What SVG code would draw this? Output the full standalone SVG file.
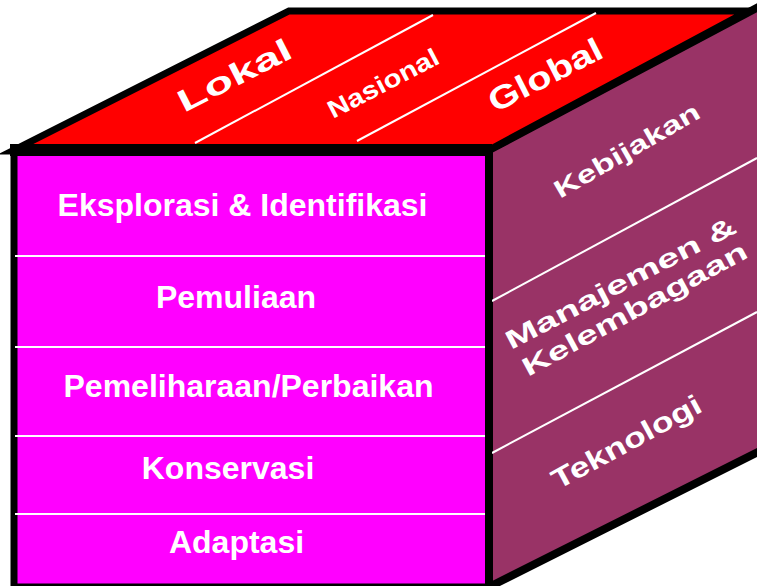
<svg xmlns="http://www.w3.org/2000/svg" width="757" height="586" viewBox="0 0 757 586">
<style>
.edge{stroke:#000;stroke-linejoin:miter;stroke-miterlimit:10}
.sep{stroke:#fff;stroke-width:2;fill:none}
.ft{font-family:"Liberation Sans",Arial,sans-serif;font-weight:bold;font-size:32px;fill:#fff;text-anchor:middle}
.rt{font-family:"Liberation Sans",Arial,sans-serif;font-weight:bold;fill:#fff}
</style>
<rect width="757" height="586" fill="#fff"/>
<g id="right-face">
<polygon class="edge" points="489,150 764,4 764,449 489,587" fill="#993366" stroke-width="8"/>
<line class="sep" x1="492" y1="301" x2="757" y2="158"/>
<line class="sep" x1="492" y1="453" x2="757" y2="312"/>
<text class="rt" font-size="25" x="560" y="199" transform="rotate(-30 560 199)" textLength="164" lengthAdjust="spacingAndGlyphs">Kebijakan</text>
<text class="rt" font-size="26" x="511" y="350" transform="rotate(-27.5 511 350)" textLength="256" lengthAdjust="spacingAndGlyphs">Manajemen &amp;</text>
<text class="rt" font-size="26" x="528" y="377" transform="rotate(-28.5 528 377)" textLength="252" lengthAdjust="spacingAndGlyphs">Kelembagaan</text>
<text class="rt" font-size="28" x="558" y="490" transform="rotate(-28.5 558 490)" textLength="166" lengthAdjust="spacingAndGlyphs">Teknologi</text>
</g>
<g id="top-face">
<polygon class="edge" points="12,151 289,11 748,11 489,150" fill="#ff0000" stroke-width="7"/>
<line class="sep" x1="195" y1="143" x2="433" y2="15"/>
<line class="sep" x1="357" y1="141" x2="596" y2="13"/>
<text class="rt" font-size="31" x="184" y="113" transform="rotate(-27 184 113)" textLength="124" lengthAdjust="spacingAndGlyphs">Lokal</text>
<text class="rt" font-size="25" x="333" y="119" transform="rotate(-27.5 333 119)" textLength="122" lengthAdjust="spacingAndGlyphs">Nasional</text>
<text class="rt" font-size="32" x="495" y="113" transform="rotate(-27 495 113)" textLength="124" lengthAdjust="spacingAndGlyphs">Global</text>
</g>
<g id="front-face">
<rect class="edge" x="14" y="150" width="474.5" height="437" fill="#ff00ff" stroke-width="7"/>
<rect x="10" y="144" width="482" height="12" fill="#000"/>
<line class="sep" x1="15" y1="256" x2="485" y2="256"/>
<line class="sep" x1="15" y1="347" x2="485" y2="347"/>
<line class="sep" x1="15" y1="436" x2="485" y2="436"/>
<line class="sep" x1="15" y1="514" x2="485" y2="514"/>
</g>
<g id="row-eksplorasi"><text class="ft" x="242.5" y="216">Eksplorasi &amp; Identifikasi</text></g>
<g id="row-pemuliaan"><text class="ft" x="236" y="308">Pemuliaan</text></g>
<g id="row-pemeliharaan"><text class="ft" x="248.5" y="397">Pemeliharaan/Perbaikan</text></g>
<g id="row-konservasi"><text class="ft" x="228" y="479">Konservasi</text></g>
<g id="row-adaptasi"><text class="ft" x="236.5" y="553">Adaptasi</text></g>
</svg>
